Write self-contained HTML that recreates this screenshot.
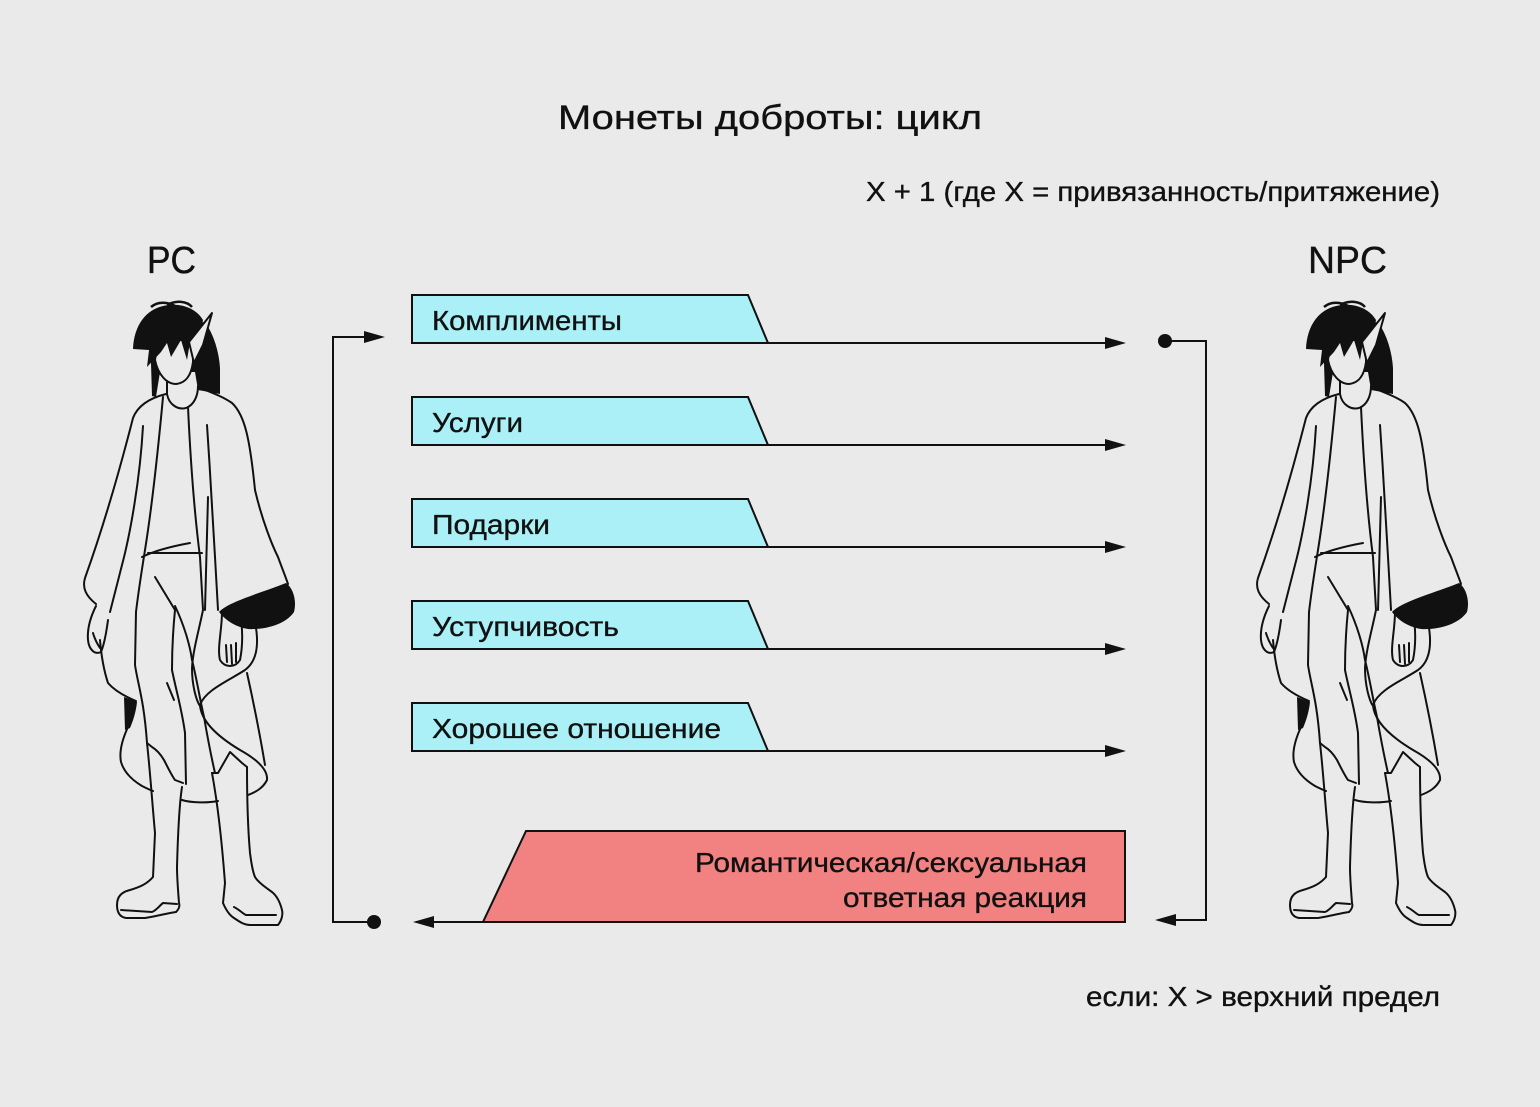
<!DOCTYPE html>
<html>
<head>
<meta charset="utf-8">
<style>
html,body{margin:0;padding:0;background:#eaeaea;}
svg{display:block;}
text{font-family:"Liberation Sans","Noto Sans CJK SC",sans-serif;fill:#111;stroke:#111;stroke-width:0.35px;}
</style>
</head>
<body>
<svg width="1540" height="1107" viewBox="0 0 1540 1107" xmlns="http://www.w3.org/2000/svg">
<rect x="0" y="0" width="1540" height="1107" fill="#eaeaea"/>

<!-- Titles -->
<text x="558" y="129" font-size="34" textLength="424" lengthAdjust="spacingAndGlyphs">Монеты доброты: цикл</text>
<text x="866" y="201" font-size="28" textLength="574" lengthAdjust="spacingAndGlyphs">X + 1 (где X = привязанность/притяжение)</text>
<text x="147" y="273" font-size="38" textLength="49" lengthAdjust="spacingAndGlyphs">PC</text>
<text x="1308" y="273" font-size="38" textLength="79" lengthAdjust="spacingAndGlyphs">NPC</text>
<text x="1086" y="1006" font-size="28" textLength="354" lengthAdjust="spacingAndGlyphs">если: X &gt; верхний предел</text>

<!-- Cyan rows -->
<g stroke="#111" stroke-width="2" fill="#aaf0f6">
  <polygon points="412,295 748,295 768,343 412,343"/>
  <polygon points="412,397 748,397 768,445 412,445"/>
  <polygon points="412,499 748,499 768,547 412,547"/>
  <polygon points="412,601 748,601 768,649 412,649"/>
  <polygon points="412,703 748,703 768,751 412,751"/>
</g>
<g stroke="#111" stroke-width="2" fill="none">
  <line x1="768" y1="343" x2="1108" y2="343"/>
  <line x1="768" y1="445" x2="1108" y2="445"/>
  <line x1="768" y1="547" x2="1108" y2="547"/>
  <line x1="768" y1="649" x2="1108" y2="649"/>
  <line x1="768" y1="751" x2="1108" y2="751"/>
</g>
<g fill="#111">
  <polygon points="1126,343 1105,337 1105,349"/>
  <polygon points="1126,445 1105,439 1105,451"/>
  <polygon points="1126,547 1105,541 1105,553"/>
  <polygon points="1126,649 1105,643 1105,655"/>
  <polygon points="1126,751 1105,745 1105,757"/>
</g>
<text x="432" y="330" font-size="28" textLength="190" lengthAdjust="spacingAndGlyphs">Комплименты</text>
<text x="432" y="432" font-size="28" textLength="91" lengthAdjust="spacingAndGlyphs">Услуги</text>
<text x="432" y="534" font-size="28" textLength="118" lengthAdjust="spacingAndGlyphs">Подарки</text>
<text x="432" y="636" font-size="28" textLength="187" lengthAdjust="spacingAndGlyphs">Уступчивость</text>
<text x="432" y="738" font-size="28" textLength="289" lengthAdjust="spacingAndGlyphs">Хорошее отношение</text>

<!-- Pink response -->
<polygon points="526,831 1125,831 1125,922 483,922" fill="#f28282" stroke="#111" stroke-width="2"/>
<line x1="483" y1="922" x2="430" y2="922" stroke="#111" stroke-width="2"/>
<polygon points="413,922 434,916 434,928" fill="#111"/>
<text x="695" y="872" font-size="28" textLength="392" lengthAdjust="spacingAndGlyphs">Романтическая/сексуальная</text>
<text x="843" y="907" font-size="28" textLength="244" lengthAdjust="spacingAndGlyphs">ответная реакция</text>

<!-- Left loop connector -->
<polyline points="374,922 333,922 333,337 366,337" fill="none" stroke="#111" stroke-width="2"/>
<polygon points="385,337 364,331 364,343" fill="#111"/>
<circle cx="374" cy="922" r="7" fill="#111"/>

<!-- Right loop connector -->
<polyline points="1165,341 1206,341 1206,920 1172,920" fill="none" stroke="#111" stroke-width="2"/>
<polygon points="1155,920 1176,914 1176,926" fill="#111"/>
<circle cx="1165" cy="341" r="7" fill="#111"/>

<!-- Figure PC -->
<g>
  <path d="M150,330 L205,322 C214,335 219,352 220,368 L220,394 L198,390 L195,372 L160,372 L156,397 L152,396 Z" fill="#111"/>
  <path d="M155,360 C158,375 167,384 176,384 C185,383 191,377 193,362 L193,340 L158,340 Z" fill="#eaeaea" stroke="#111" stroke-width="2"/>
  <path d="M133,349 C134,325 146,310 163,306 C180,302 196,308 203,320 L198,345 L190,342 L187,360 L181,340 L171,357 L167,343 L161,352 L147,367 L149,350 Z" fill="#111"/>
  <path d="M151,307 C158,301 168,302 175,306 M167,305 C176,300 187,301 192,307" fill="none" stroke="#111" stroke-width="2.5"/>
  <path d="M189,342 L212,313 L203,345 L194,363 Z" fill="#eaeaea" stroke="#111" stroke-width="2" stroke-linejoin="round"/>
  <g fill="none" stroke="#111" stroke-width="2" stroke-linecap="round" stroke-linejoin="round">
    <path d="M167,381 L167,394 C169,405 178,410 186,408 C194,405 198,396 198,386"/>
    <path d="M166,394 C150,398 138,405 133,418 C121,465 104,525 85,578 C82,588 86,596 96,604"/>
    <path d="M143,426 C140,480 130,535 122,565 C117,585 113,600 110,612"/>
    <path d="M163,397 C159,440 153,500 145,550 C141,575 138,595 136,612 L135,665 C138,685 144,700 147,743"/>
    <path d="M188,407 C190,450 194,510 200,557 L203,610 C199,630 193,650 192,668 C192,685 196,700 200,706"/>
    <path d="M207,425 C210,470 213,520 215,557 L218,610"/>
    <path d="M208,497 C207,540 206,580 205,610"/>
    <path d="M198,387 C210,392 222,396 232,403 C245,415 250,440 255,490 C262,520 272,545 278,557 C282,568 286,578 288,584"/>
    <path d="M142,557 C152,552 168,547 190,543"/>
    <path d="M148,553 L202,553"/>
    <path d="M155,577 L175,610 C173,630 172,655 172,670 C176,690 182,710 185,733 L186,784"/>
    <path d="M167,683 L174,700"/>
    <path d="M175,606 C184,625 190,645 192,660 C197,680 200,700 204,717 C208,740 212,760 215,773"/>
    <path d="M96,606 C91,616 87,628 88,640 C89,650 95,655 101,652 C104,645 106,635 108,620"/>
    <path d="M93,633 C95,640 98,645 100,648"/>
    <path d="M100,640 C101,652 103,668 108,683 C114,690 124,696 136,701"/>
    <path d="M128,727 C122,740 119,752 121,762 C124,772 132,780 142,786 C146,788 150,790 153,791"/>
    <path d="M182,800 C192,803 208,803 218,801"/>
    <path d="M256,628 C259,648 256,662 245,670 C230,680 205,690 200,705 C201,720 215,735 240,750 C258,760 268,770 267,780 C263,788 256,792 248,795"/>
    <path d="M247,673 C253,700 260,735 265,765"/>
    <path d="M222,612 C222,630 217,648 220,660 C225,668 235,668 240,660 C243,645 243,630 240,612"/>
    <path d="M226,645 L227,662 M231,645 L232,664 M236,643 L236,662"/>
    <path d="M147,743 C150,770 152,800 155,833 L153,877 C147,884 140,887 130,890 C122,892 117,896 117,905 C117,913 120,917 126,918 L145,918 C158,916 168,913 176,912 C179,909 180,906 179,903 C178,890 177,878 177,867 C178,830 180,800 182,787"/>
    <path d="M121,910 L152,912 C157,910 160,905 163,903 L177,904"/>
    <path d="M147,743 L152,747 C157,750 161,755 164,760 C168,768 172,776 175,780 L183,783"/>
    <path d="M212,773 C217,800 221,830 225,883 L223,903 C226,910 229,915 234,918 C240,922 244,925 250,925 L278,925 C282,920 283,914 282,910 C280,902 277,896 272,892 C265,887 258,882 255,877 C252,870 251,860 250,853 C248,830 247,800 247,767"/>
    <path d="M234,907 C240,910 243,914 246,915 L276,915"/>
    <path d="M212,773 L218,773 L230,752 L242,763 L247,767"/>
  </g>
  <path d="M219,612 C228,602 258,594 286,583 C293,588 297,600 294,612 C286,624 266,630 248,629 C236,627 226,621 219,612 Z" fill="#111"/>
  <path d="M124,697 L137,702 C136,712 133,721 130,728 L125,730 Z" fill="#111"/>
</g>

<!-- Figure NPC (copy) -->
<g transform="translate(1173,0)">
  <path d="M150,330 L205,322 C214,335 219,352 220,368 L220,394 L198,390 L195,372 L160,372 L156,397 L152,396 Z" fill="#111"/>
  <path d="M155,360 C158,375 167,384 176,384 C185,383 191,377 193,362 L193,340 L158,340 Z" fill="#eaeaea" stroke="#111" stroke-width="2"/>
  <path d="M133,349 C134,325 146,310 163,306 C180,302 196,308 203,320 L198,345 L190,342 L187,360 L181,340 L171,357 L167,343 L161,352 L147,367 L149,350 Z" fill="#111"/>
  <path d="M151,307 C158,301 168,302 175,306 M167,305 C176,300 187,301 192,307" fill="none" stroke="#111" stroke-width="2.5"/>
  <path d="M189,342 L212,313 L203,345 L194,363 Z" fill="#eaeaea" stroke="#111" stroke-width="2" stroke-linejoin="round"/>
  <g fill="none" stroke="#111" stroke-width="2" stroke-linecap="round" stroke-linejoin="round">
    <path d="M167,381 L167,394 C169,405 178,410 186,408 C194,405 198,396 198,386"/>
    <path d="M166,394 C150,398 138,405 133,418 C121,465 104,525 85,578 C82,588 86,596 96,604"/>
    <path d="M143,426 C140,480 130,535 122,565 C117,585 113,600 110,612"/>
    <path d="M163,397 C159,440 153,500 145,550 C141,575 138,595 136,612 L135,665 C138,685 144,700 147,743"/>
    <path d="M188,407 C190,450 194,510 200,557 L203,610 C199,630 193,650 192,668 C192,685 196,700 200,706"/>
    <path d="M207,425 C210,470 213,520 215,557 L218,610"/>
    <path d="M208,497 C207,540 206,580 205,610"/>
    <path d="M198,387 C210,392 222,396 232,403 C245,415 250,440 255,490 C262,520 272,545 278,557 C282,568 286,578 288,584"/>
    <path d="M142,557 C152,552 168,547 190,543"/>
    <path d="M148,553 L202,553"/>
    <path d="M155,577 L175,610 C173,630 172,655 172,670 C176,690 182,710 185,733 L186,784"/>
    <path d="M167,683 L174,700"/>
    <path d="M175,606 C184,625 190,645 192,660 C197,680 200,700 204,717 C208,740 212,760 215,773"/>
    <path d="M96,606 C91,616 87,628 88,640 C89,650 95,655 101,652 C104,645 106,635 108,620"/>
    <path d="M93,633 C95,640 98,645 100,648"/>
    <path d="M100,640 C101,652 103,668 108,683 C114,690 124,696 136,701"/>
    <path d="M128,727 C122,740 119,752 121,762 C124,772 132,780 142,786 C146,788 150,790 153,791"/>
    <path d="M182,800 C192,803 208,803 218,801"/>
    <path d="M256,628 C259,648 256,662 245,670 C230,680 205,690 200,705 C201,720 215,735 240,750 C258,760 268,770 267,780 C263,788 256,792 248,795"/>
    <path d="M247,673 C253,700 260,735 265,765"/>
    <path d="M222,612 C222,630 217,648 220,660 C225,668 235,668 240,660 C243,645 243,630 240,612"/>
    <path d="M226,645 L227,662 M231,645 L232,664 M236,643 L236,662"/>
    <path d="M147,743 C150,770 152,800 155,833 L153,877 C147,884 140,887 130,890 C122,892 117,896 117,905 C117,913 120,917 126,918 L145,918 C158,916 168,913 176,912 C179,909 180,906 179,903 C178,890 177,878 177,867 C178,830 180,800 182,787"/>
    <path d="M121,910 L152,912 C157,910 160,905 163,903 L177,904"/>
    <path d="M147,743 L152,747 C157,750 161,755 164,760 C168,768 172,776 175,780 L183,783"/>
    <path d="M212,773 C217,800 221,830 225,883 L223,903 C226,910 229,915 234,918 C240,922 244,925 250,925 L278,925 C282,920 283,914 282,910 C280,902 277,896 272,892 C265,887 258,882 255,877 C252,870 251,860 250,853 C248,830 247,800 247,767"/>
    <path d="M234,907 C240,910 243,914 246,915 L276,915"/>
    <path d="M212,773 L218,773 L230,752 L242,763 L247,767"/>
  </g>
  <path d="M219,612 C228,602 258,594 286,583 C293,588 297,600 294,612 C286,624 266,630 248,629 C236,627 226,621 219,612 Z" fill="#111"/>
  <path d="M124,697 L137,702 C136,712 133,721 130,728 L125,730 Z" fill="#111"/>
</g>
</svg>
</body>
</html>
